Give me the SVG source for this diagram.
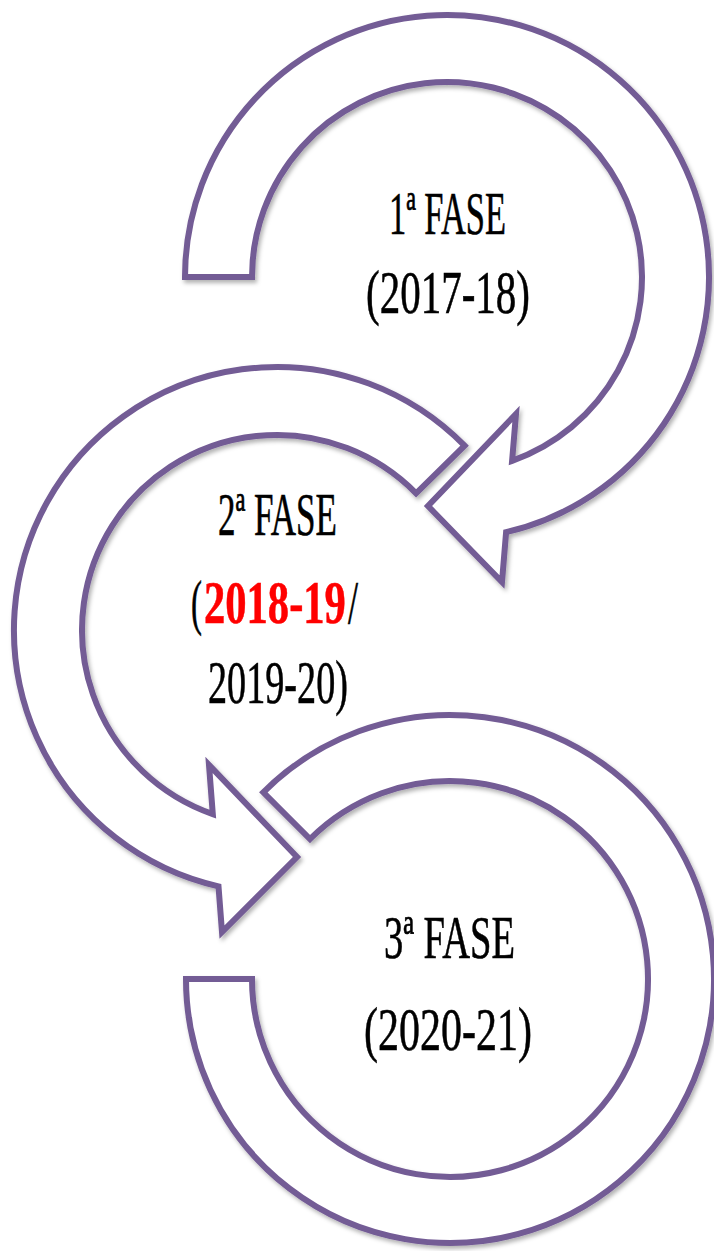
<svg xmlns="http://www.w3.org/2000/svg" width="714" height="1251" viewBox="0 0 714 1251">
<defs>
<filter id="sh" x="-10%" y="-10%" width="120%" height="120%">
<feDropShadow dx="2" dy="3" stdDeviation="2" flood-color="#000" flood-opacity="0.3"/>
</filter>
<style>
.arr{fill:#fff;stroke:#735B95;stroke-width:6;stroke-linejoin:miter;filter:url(#sh)}
.t{font-family:"Liberation Serif","Times New Roman",serif;font-size:61px;fill:#000;stroke:#000;stroke-width:0.6}
.r{fill:#FF0000;stroke:#FF0000;font-weight:bold}
</style>
</defs>
<rect width="714" height="1251" fill="#fff"/>
<g id="connectors">
<path id="arrow1" class="arr" d="M185,277 A262,262 0 1 1 506.1,532.2 L502,582 L428,506 L516,414 L512.1,460.8 A195,195 0 1 0 252,277 Z"/>
<path id="arrow2" class="arr" d="M464.6,445.7 A263,263 0 1 0 218.5,886.4 L222,932 L297,857 L209,765 L212.8,814.1 A195,195 0 1 1 416.1,493.3 Z"/>
<path id="arrow3" class="arr" d="M186,979 A264,264 0 1 0 263.3,792.3 L310,839 A198,198 0 1 1 252,979 Z"/>
</g>
<g id="node1">
<text class="t" x="389" y="234" textLength="117" lengthAdjust="spacingAndGlyphs">1ª FASE</text>
<text class="t" x="366" y="313" textLength="164" lengthAdjust="spacingAndGlyphs">(2017-18)</text>
</g>
<g id="node2">
<text class="t" x="218" y="535" textLength="119" lengthAdjust="spacingAndGlyphs">2ª FASE</text>
<text class="t" x="0" y="0" transform="translate(191,623) scale(0.54,1)">(</text>
<text class="t r" x="0" y="0" transform="translate(204,623) scale(0.698,1)">2018-19</text>
<text class="t" x="0" y="0" transform="translate(348,623) scale(0.59,1)">/</text>
<text class="t" x="208" y="703" textLength="140" lengthAdjust="spacingAndGlyphs">2019-20)</text>
</g>
<g id="node3">
<text class="t" x="384" y="958" textLength="131" lengthAdjust="spacingAndGlyphs">3ª FASE</text>
<text class="t" x="364" y="1050" textLength="168" lengthAdjust="spacingAndGlyphs">(2020-21)</text>
</g>
</svg>
